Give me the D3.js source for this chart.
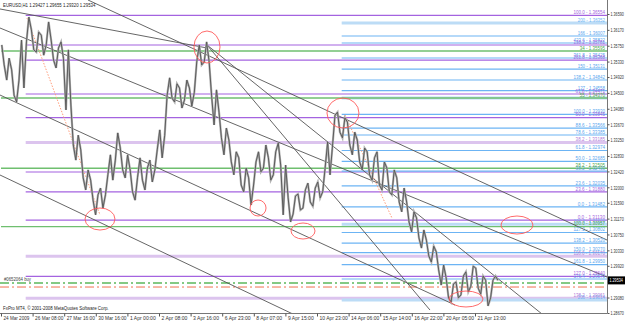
<!DOCTYPE html>
<html>
<head>
<meta charset="utf-8">
<script src="https://cdn.jsdelivr.net/npm/d3@7"></script>
<style>
  body { margin: 0; background: #fff; }
  svg { display: block; font-family: "Liberation Sans", Arial, sans-serif; }
</style>
</head>
<body>
<svg id="chart" width="625" height="323"></svg>
<script>
// ---- data ----
const title = 'EURUSD,H1  1.29427 1.29655 1.29320 1.29534';
const copyright = 'FxPro MT4, \u00a9 2001-2008 MetaQuotes Software Corp.';
const orderLabel = '#0652064 buy';
const lastClose = 1.29534;

const priceTicks = [1.36590, 1.36170, 1.35750, 1.35330, 1.34920, 1.34500, 1.34080, 1.33670,
  1.33250, 1.32830, 1.32420, 1.32000, 1.31590, 1.31170, 1.30750, 1.30330, 1.29920, 1.29500,
  1.29080, 1.28670];

const timeBars = [0, 32, 64, 96, 128, 160, 192, 224, 256, 288, 320, 352, 384, 416, 448, 480];
const timeLabels = ['24 Mar 2009', '26 Mar 08:00', '27 Mar 16:00', '30 Mar 16:00', '1 Apr 00:00',
  '2 Apr 08:00', '3 Apr 16:00', '6 Apr 23:00', '8 Apr 07:00', '9 Apr 15:00', '10 Apr 23:00',
  '14 Apr 06:00', '15 Apr 14:00', '16 Apr 22:00', '20 Apr 05:00', '21 Apr 13:00'];

// H1 price, high / low of every 5 bars
const barsPerGroup = 5;
const highs = [1.3577, 1.3542, 1.3511, 1.3484, 1.3590, 1.3651, 1.3617, 1.3611, 1.3603, 1.3638,
  1.3590, 1.3569, 1.3585, 1.3564, 1.3418, 1.3338, 1.3299, 1.3246, 1.3219, 1.3180,
  1.3198, 1.3233, 1.3286, 1.3344, 1.3304, 1.3286, 1.3246, 1.3225, 1.3278, 1.3251,
  1.3272, 1.3299, 1.3352, 1.3444, 1.3490, 1.3474, 1.3463, 1.3484, 1.3463, 1.3532,
  1.3577, 1.3585, 1.3532, 1.3458, 1.3399, 1.3357, 1.3325, 1.3294, 1.3278, 1.3251,
  1.3225, 1.3267, 1.3294, 1.3312, 1.3278, 1.3294, 1.3317, 1.3259, 1.3172, 1.3177,
  1.3182, 1.3193, 1.3211, 1.3198, 1.3214, 1.3251, 1.3320, 1.3391, 1.3399, 1.3384,
  1.3373, 1.3346, 1.3325, 1.3304, 1.3294, 1.3278, 1.3294, 1.3267, 1.3251, 1.3246,
  1.3225, 1.3198, 1.3161, 1.3135, 1.3119, 1.3087, 1.3060, 1.3044, 1.3029, 1.2994,
  1.2960, 1.2944, 1.2949, 1.2965, 1.2976, 1.2991, 1.2986, 1.2965, 1.2954, 1.2954, 1.2965];
const lows = [1.3524, 1.3484, 1.3444, 1.3426, 1.3463, 1.3585, 1.3564, 1.3558, 1.3550, 1.3577,
  1.3537, 1.3516, 1.3542, 1.3405, 1.3312, 1.3272, 1.3225, 1.3193, 1.3166, 1.3127,
  1.3145, 1.3180, 1.3219, 1.3272, 1.3246, 1.3225, 1.3188, 1.3166, 1.3219, 1.3193,
  1.3214, 1.3246, 1.3278, 1.3338, 1.3436, 1.3426, 1.3410, 1.3431, 1.3415, 1.3452,
  1.3524, 1.3532, 1.3444, 1.3365, 1.3331, 1.3286, 1.3267, 1.3233, 1.3206, 1.3188,
  1.3153, 1.3206, 1.3241, 1.3251, 1.3219, 1.3233, 1.3259, 1.3127, 1.3108, 1.3129,
  1.3140, 1.3145, 1.3161, 1.3150, 1.3172, 1.3188, 1.3233, 1.3312, 1.3346, 1.3331,
  1.3312, 1.3286, 1.3267, 1.3246, 1.3233, 1.3219, 1.3206, 1.3193, 1.3188, 1.3180,
  1.3161, 1.3135, 1.3108, 1.3082, 1.3066, 1.3039, 1.3018, 1.3002, 1.2981, 1.2941,
  1.2907, 1.2896, 1.2907, 1.2915, 1.2923, 1.2938, 1.2933, 1.2917, 1.2886, 1.2907, 1.29534];

// horizontal levels
const fiboStartBar = 345;
const blueLevels = [1.36007, 1.35822, 1.35425, 1.35131, 1.34842, 1.34558, 1.33930, 1.33566,
  1.33385, 1.32974, 1.32685, 1.32430, 1.32035, 1.31482, 1.30802, 1.30520, 1.30270, 1.29950, 1.29570];
const blueLabels = ['166 - 1.36007', '423.6 - 1.35822', '361.8 - 1.35425', '150 - 1.35131',
  '138.2 - 1.34842', '127 - 1.34558', '100.0 - 1.33930', '88.6 - 1.33566', '78.6 - 1.33385',
  '61.8 - 1.32974', '50.0 - 1.32685', '38.2 - 1.32430', '23.6 - 1.32035', '0.0 - 1.31482',
  '127.2 - 1.30802', '138.2 - 1.30520', '150.0 - 1.30270', '161.8 - 1.29950', '176.4 - 1.29570'];
const lightBlueLevels = [1.36352, 1.34365, 1.31020, 1.29014];
const lightBlueLabels = ['200 - 1.36352', '', '100.0 - 1.31020', '200 - 1.29014'];

const purpleStartBar = 25;
const purpleLevels = [1.36554, 1.35769, 1.35368, 1.34471, 1.33845, 1.32405, 1.31880, 1.31130, 1.29640];
const purpleLabels = ['100.0 - 1.36554', '138.2 - 1.35781', '261.8 - 1.35368', '61.8 - 1.34471',
  '50.0 - 1.33845', '', '23.6 - 1.31880', '0.0 - 1.31130', '127.0 - 1.29640'];
const lightPurpleLevels = [1.33185, 1.30170, 1.29061];
const lightPurpleLabels = ['38.2 - 1.33185', '118.0 - 1.30170', '138.2 - 1.29061'];

const greenLevels = [1.35610, 1.34365, 1.32505, 1.30957];
const greenLabels = ['34 - 1.35595', '55 - 1.34370', '38.2 - 1.32505', '100.0 - 1.30957'];
const buyLevel = 1.29464;
const stopLevel = 1.29358;

// trend lines: [bar1, price1, bar2, price2]
const trendLines = [
  [-1, 1.36723, 208.6, 1.35690],
  [88.1, 1.36961, 613.7, 1.30603],
  [-1, 1.36219, 613.7, 1.29623],
  [-1, 1.34444, 459.7, 1.28882],
  [-1, 1.32325, 297.7, 1.28617],
  [208.6, 1.35769, 434.4, 1.28749],
  [208.6, 1.35769, 551.0, 1.28577]
];
const dottedLines = [
  [26.3, 1.36484, 100.3, 1.31266],
  [348.4, 1.33915, 395.9, 1.31186]
];
// ellipses: [bar1, priceTop, bar2, priceBottom]
const ellipses = [
  [195.4, 1.36140, 221.8, 1.35292],
  [330.1, 1.34365, 362.5, 1.33570],
  [85.1, 1.31451, 115.4, 1.30868],
  [252.2, 1.31663, 268.4, 1.31239],
  [293.7, 1.31054, 318.0, 1.30630],
  [506.3, 1.31239, 538.7, 1.30762],
  [453.7, 1.29252, 488.1, 1.28829]
];

// ---- drawing ----
const W = 625;
const plotRight = 607, plotBottom = 313;
const svg = d3.select('#chart');

const xScale = d3.scaleLinear().domain([0, 600]).range([1, 593.5]);
const yScale = d3.scaleLinear().domain([1.2867, 1.3659]).range([313, 14]);

// small MT4 style text, squeezed to the width the terminal font takes
function small (sel, perChar) {
  sel.style('font-size', '6px')
    .attr('textLength', function () { return this.textContent.length * (perChar || 2.25); })
    .attr('lengthAdjust', 'spacingAndGlyphs');
  return sel;
}

svg.append('defs').append('clipPath').attr('id', 'plot')
  .append('rect').attr('x', 0).attr('y', 0).attr('width', plotRight).attr('height', plotBottom);

const g = svg.append('g').attr('clip-path', 'url(#plot)');

function hLines (levels, startBar, color, width) {
  levels.forEach(function (p) {
    g.append('line')
      .attr('x1', xScale(startBar)).attr('x2', plotRight)
      .attr('y1', yScale(p)).attr('y2', yScale(p))
      .attr('stroke', color).attr('stroke-width', width);
  });
}

hLines(lightPurpleLevels, purpleStartBar, '#dcc4ee', 3);
hLines(lightBlueLevels, fiboStartBar, '#bcdcf6', 3);
hLines(greenLevels, 0, '#6fbf6f', 1.4);
hLines(purpleLevels, purpleStartBar, '#a463e0', 1.2);
hLines(blueLevels, fiboStartBar, '#6cb4f4', 1.2);

// order lines
g.append('line').attr('x1', 0).attr('x2', plotRight)
  .attr('y1', yScale(buyLevel)).attr('y2', yScale(buyLevel))
  .attr('stroke', '#5cb85c').attr('stroke-width', 1.4).attr('stroke-dasharray', '9,3,2,3');
g.append('line').attr('x1', 0).attr('x2', plotRight)
  .attr('y1', yScale(stopLevel)).attr('y2', yScale(stopLevel))
  .attr('stroke', '#f07050').attr('stroke-width', 1).attr('stroke-dasharray', '9,3,2,3');
small(g.append('text').attr('x', 4).attr('y', yScale(buyLevel) - 2)
  .attr('fill', '#444').text(orderLabel));

// trend lines
trendLines.forEach(function (t) {
  g.append('line')
    .attr('x1', xScale(t[0])).attr('y1', yScale(t[1]))
    .attr('x2', xScale(t[2])).attr('y2', yScale(t[3]))
    .attr('stroke', '#555').attr('stroke-width', 0.9);
});
dottedLines.forEach(function (t) {
  g.append('line')
    .attr('x1', xScale(t[0])).attr('y1', yScale(t[1]))
    .attr('x2', xScale(t[2])).attr('y2', yScale(t[3]))
    .attr('stroke', '#ff9c7a').attr('stroke-width', 1).attr('stroke-dasharray', '1.5,1.5');
});

// price: the hourly bars as a jagged trace through each group's high and low
const groupX = function (k) { return xScale(k * barsPerGroup + 2); };
const pts = [];
highs.forEach(function (h, k) {
  const x = groupX(k);
  if (k % 2 === 0) {
    pts.push([x - 1.2, h], [x + 1.2, lows[k]]);
  } else {
    pts.push([x - 1.2, lows[k]], [x + 1.2, h]);
  }
});
const trace = d3.line().x(function (d) { return d[0]; }).y(function (d) { return yScale(d[1]); });
g.append('path').attr('d', trace(pts))
  .attr('fill', 'none').attr('stroke', '#b2b2b2').attr('stroke-width', 2.2);
g.append('path').attr('d', trace(pts))
  .attr('fill', 'none').attr('stroke', '#5c5c5c').attr('stroke-width', 1);

// ellipses
ellipses.forEach(function (e) {
  const x1 = xScale(e[0]), x2 = xScale(e[2]);
  const y1 = yScale(e[1]), y2 = yScale(e[3]);
  g.append('ellipse')
    .attr('cx', (x1 + x2) / 2).attr('cy', (y1 + y2) / 2)
    .attr('rx', (x2 - x1) / 2).attr('ry', (y2 - y1) / 2)
    .attr('fill', 'none').attr('stroke', '#ff5a5a').attr('stroke-width', 0.9);
});

// level labels
function levelLabels (levels, labels, color) {
  levels.forEach(function (p, i) {
    if (!labels[i]) return;
    small(g.append('text')
      .attr('x', plotRight - 2).attr('y', yScale(p) - 1.2)
      .attr('text-anchor', 'end')
      .attr('fill', color)
      .text(labels[i]), 2.1);
  });
}
levelLabels(lightBlueLevels, lightBlueLabels, '#6cb4f4');
levelLabels(blueLevels, blueLabels, '#5aa6ee');
levelLabels(purpleLevels, purpleLabels, '#a463e0');
levelLabels(lightPurpleLevels, lightPurpleLabels, '#b07ad8');
levelLabels(greenLevels, greenLabels, '#4ea84e');

// frame
svg.append('line').attr('x1', plotRight + 0.5).attr('x2', plotRight + 0.5)
  .attr('y1', 0).attr('y2', plotBottom).attr('stroke', '#777');
svg.append('line').attr('x1', 0).attr('x2', plotRight + 0.5)
  .attr('y1', plotBottom + 0.5).attr('y2', plotBottom + 0.5).attr('stroke', '#777');

// right price axis
const yAxis = d3.axisRight(yScale).tickValues(priceTicks).tickSize(2)
  .tickFormat(d3.format('.5f'));
const ya = svg.append('g').attr('transform', 'translate(' + (plotRight + 0.5) + ',0)').call(yAxis);
ya.select('.domain').remove();
ya.selectAll('line').attr('stroke', '#555');
small(ya.selectAll('text').attr('x', 3).attr('dy', '0.3em')
  .style('font-family', '"Liberation Sans", Arial, sans-serif').attr('fill', '#333'), 1.9);

// last price box
const yLast = yScale(lastClose);
svg.append('rect').attr('x', plotRight + 1).attr('y', yLast - 4).attr('width', W - plotRight - 1)
  .attr('height', 8).attr('fill', '#000');
small(svg.append('text').attr('x', plotRight + 2.5).attr('y', yLast + 2)
  .attr('fill', '#fff').text(d3.format('.5f')(lastClose)), 1.9);

// bottom time axis
const xAxis = d3.axisBottom(xScale).tickValues(timeBars).tickSize(3)
  .tickFormat(function (d, i) { return timeLabels[i]; });
const xa = svg.append('g').attr('transform', 'translate(0,' + (plotBottom + 0.5) + ')').call(xAxis);
xa.select('.domain').remove();
xa.selectAll('line').attr('stroke', '#555');
small(xa.selectAll('text').attr('text-anchor', 'start').attr('x', 2).attr('y', 2)
  .style('font-family', '"Liberation Sans", Arial, sans-serif').attr('fill', '#333'), 2.35);

// title & copyright
small(svg.append('text').attr('x', 3).attr('y', 7).attr('fill', '#222').text(title), 2.2);
small(svg.append('text').attr('x', 3).attr('y', 310).attr('fill', '#222').text(copyright), 2.2);
</script>
</body>
</html>
